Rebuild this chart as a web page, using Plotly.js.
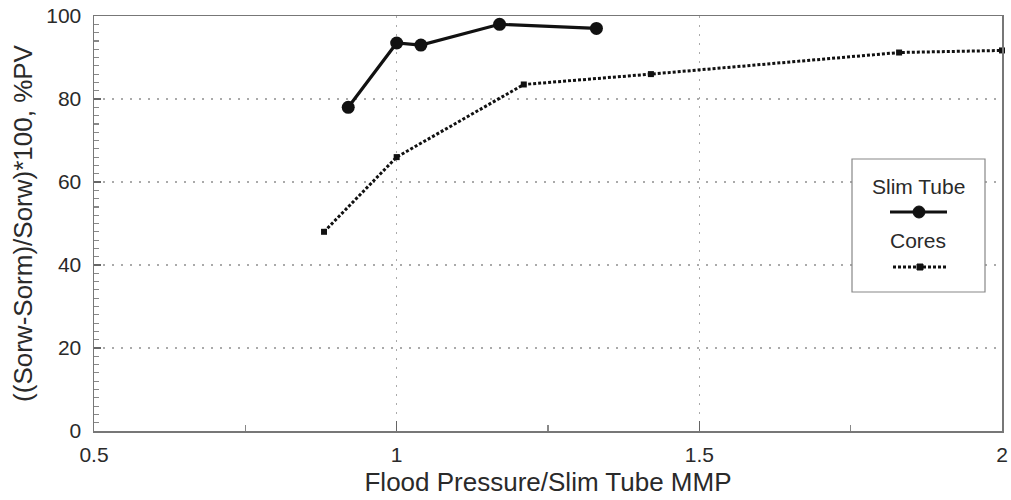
<!DOCTYPE html>
<html><head><meta charset="utf-8">
<script src="https://cdn.plot.ly/plotly-3.0.1.min.js"></script>
<style>html,body{margin:0;padding:0;background:#fff}#c{width:1011px;height:500px}</style>
</head><body><div id="c"></div>
<script>
const slimX = [0.92, 1.0, 1.04, 1.17, 1.33];
const slimY = [78, 93.5, 93, 98, 97];
const coresX = [0.88, 1.0, 1.21, 1.42, 1.83, 2.0];
const coresY = [48, 66, 83.5, 86, 91.2, 91.7];
const seriesNames = ['Slim Tube', 'Cores'];
const xTicks = [0.5, 1, 1.5, 2];
const xTickText = ['0.5', '1', '1.5', '2'];
const yTicks = [0, 20, 40, 60, 80, 100];

const FONT = 'Liberation Sans, Arial, sans-serif';
const TXT = '#2a2a2a';

const traces = [
  {x: slimX, y: slimY, name: seriesNames[0], mode: 'lines+markers', type: 'scatter',
   line: {color: '#111', width: 3.2}, marker: {symbol: 'circle', size: 13, color: '#111'}, cliponaxis: false},
  {x: coresX, y: coresY, name: seriesNames[1], mode: 'lines+markers', type: 'scatter',
   line: {color: '#111', width: 3, dash: '3px,2px'}, marker: {symbol: 'square', size: 6, color: '#111'}, cliponaxis: false}
];

const px = v => (v - 94) / 908;
const py = v => (431 - v) / 415;

const layout = {
  width: 1011, height: 500,
  margin: {l: 94, r: 9, t: 16, b: 69},
  paper_bgcolor: '#fff', plot_bgcolor: '#fff',
  showlegend: false,
  font: {family: FONT, color: TXT, size: 21},
  xaxis: {
    range: [0.5, 2], tickvals: xTicks, ticktext: xTickText,
    showline: true, linecolor: '#777', linewidth: 1.5, mirror: true,
    ticks: 'inside', ticklen: 10, tickcolor: '#666', tickwidth: 1.5,
    showgrid: true, gridcolor: '#aaa', griddash: '2px,7px', gridwidth: 1.2,
    zeroline: false, ticklabelstandoff: 4,
    minor: {dtick: 0.25, tick0: 0.5, ticks: 'inside', ticklen: 6, tickcolor: '#888', showgrid: false},
    tickfont: {size: 21, family: FONT, color: TXT},
    title: {text: 'Flood Pressure/Slim Tube MMP', font: {size: 26, family: FONT, color: TXT}, standoff: 8}
  },
  yaxis: {
    range: [0, 100], tickvals: yTicks,
    showline: true, linecolor: '#777', linewidth: 1.5, mirror: true,
    ticks: 'inside', ticklen: 7, tickcolor: '#666', tickwidth: 1.2,
    showgrid: true, gridcolor: '#aaa', griddash: '2px,7px', gridwidth: 1.2,
    zeroline: false, ticklabelstandoff: 7,
    minor: {dtick: 2, ticks: 'inside', ticklen: 5, tickcolor: '#888', showgrid: false},
    tickfont: {size: 21, family: FONT, color: TXT},
    title: {text: '((Sorw-Sorm)/Sorw)*100, %PV', font: {size: 26, family: FONT, color: TXT}, standoff: 6}
  },
  shapes: [
    {type: 'rect', xref: 'paper', yref: 'paper', x0: px(852), x1: px(985), y0: py(292), y1: py(159),
     line: {color: '#888', width: 1.2}, fillcolor: '#fff', layer: 'above'},
    {type: 'line', xref: 'paper', yref: 'paper', x0: px(890), x1: px(947), y0: py(212), y1: py(212),
     line: {color: '#111', width: 3}},
    {type: 'circle', xref: 'paper', yref: 'paper', x0: px(913), x1: px(925), y0: py(218), y1: py(206),
     line: {color: '#111', width: 1}, fillcolor: '#111'},
    {type: 'line', xref: 'paper', yref: 'paper', x0: px(893), x1: px(947), y0: py(267), y1: py(267),
     line: {color: '#111', width: 3, dash: '3px,2px'}},
    {type: 'rect', xref: 'paper', yref: 'paper', x0: px(917), x1: px(923), y0: py(270), y1: py(264),
     line: {color: '#111', width: 1}, fillcolor: '#111'}
  ],
  annotations: [
    {xref: 'paper', yref: 'paper', x: px(918), y: py(187), text: seriesNames[0], showarrow: false,
     font: {size: 21, family: FONT, color: TXT}, xanchor: 'center', yanchor: 'middle'},
    {xref: 'paper', yref: 'paper', x: px(918), y: py(240), text: seriesNames[1], showarrow: false,
     font: {size: 21, family: FONT, color: TXT}, xanchor: 'center', yanchor: 'middle'}
  ]
};

Plotly.newPlot('c', traces, layout, {displayModeBar: false, staticPlot: true});
</script>
</body></html>
